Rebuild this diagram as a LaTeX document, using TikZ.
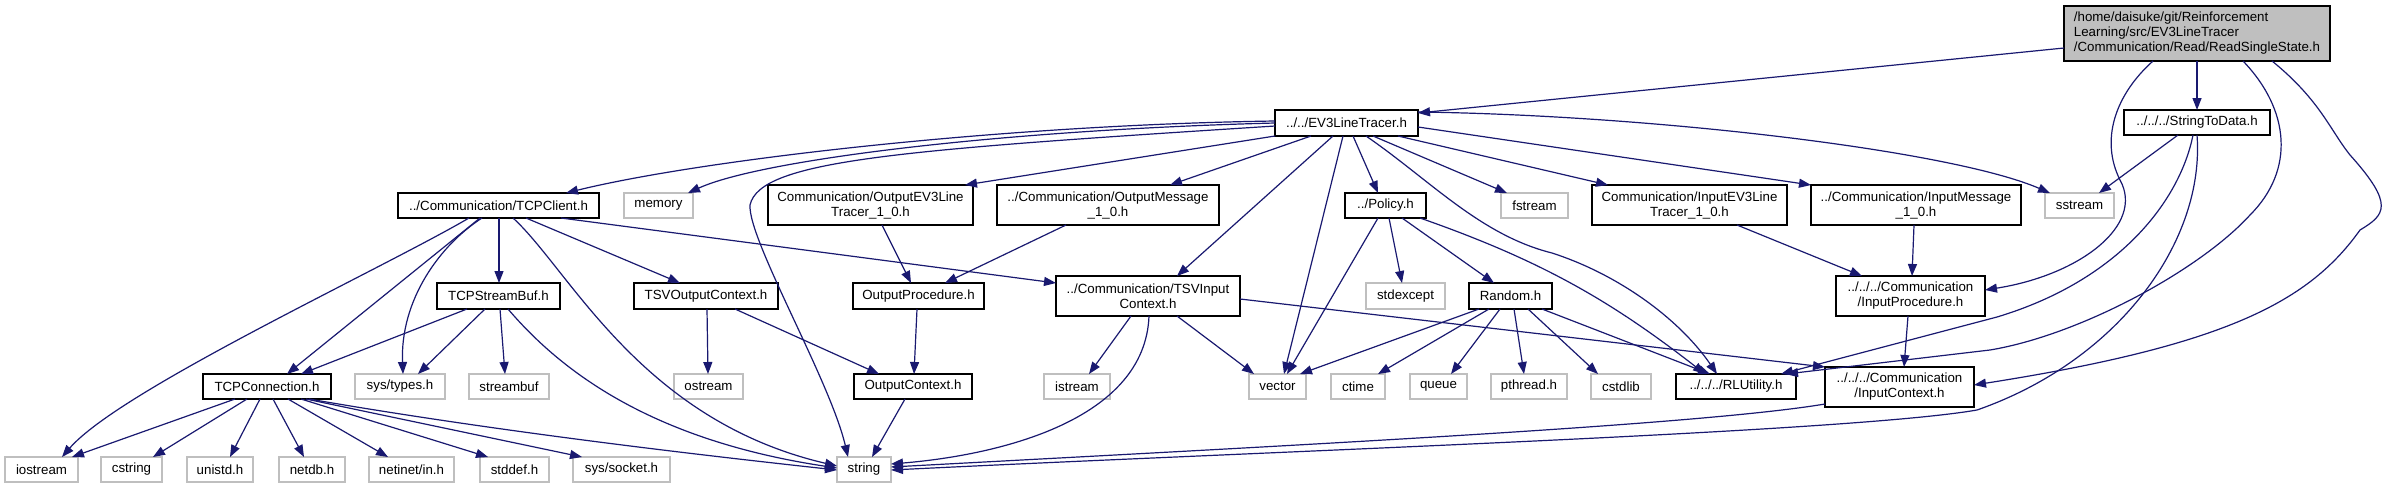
\documentclass[tikz,border=0pt]{standalone}
\usepackage{fontspec}
\setmainfont{Liberation Sans}
\usetikzlibrary{arrows.meta}
\definecolor{edgeblue}{RGB}{25,25,112}
\definecolor{extgray}{RGB}{191,191,191}
\definecolor{rootgray}{RGB}{191,191,191}
\newcommand\hnode[7]{\node[#6, minimum width={(#4)-(#2)}, minimum height={(#5)-(#3)}] (#1) at ({((#2)+(#4))/2},{((#3)+(#5))/2}) {#7};}
\begin{document}
\begin{tikzpicture}[x=1pt,y=-1pt,
  base/.style={inner sep=0pt, outer sep=0pt, line width=1.3pt, font=\fontsize{13.3}{15}\selectfont, align=center, fill=white},
  hdr/.style={base, draw=black},
  sys/.style={base, draw=extgray},
  rootnode/.style={base, draw=black, fill=rootgray, align=left},
  dep/.style={draw=edgeblue, line width=1.2pt, -{Triangle[length=12pt,width=9pt]}}]
\fill[white] (0,0) rectangle (2387,488);
\useasboundingbox (0,0) rectangle (2387,488);
% row 0
\hnode{r}{2064}{6}{2330}{61}{rootnode}{/home/daisuke/git/Reinforcement\\Learning/src/EV3LineTracer\\/Communication/Read/ReadSingleState.h}
% row 1
\hnode{ev3}{1275}{110}{1418}{136}{hdr}{../../EV3LineTracer.h}
\hnode{std}{2124}{110}{2270}{135}{hdr}{../../../StringToData.h}
% row 2
\hnode{tcpc}{398}{193}{599}{218}{hdr}{../Communication/TCPClient.h}
\hnode{mem}{624}{193}{693}{218}{sys}{memory}
\hnode{oev3}{768}{185}{973}{225}{hdr}{Communication/OutputEV3Line\\Tracer\_1\_0.h}
\hnode{omsg}{997}{185}{1219}{225}{hdr}{../Communication/OutputMessage\\\_1\_0.h}
\hnode{pol}{1345}{193}{1426}{218}{hdr}{../Policy.h}
\hnode{fs}{1501}{193}{1568}{218}{sys}{fstream}
\hnode{iev3}{1592}{185}{1787}{225}{hdr}{Communication/InputEV3Line\\Tracer\_1\_0.h}
\hnode{imsg}{1811}{185}{2021}{225}{hdr}{../Communication/InputMessage\\\_1\_0.h}
\hnode{ss}{2045}{193}{2114}{218}{sys}{sstream}
% row 3
\hnode{tsb}{437}{283}{560}{309}{hdr}{TCPStreamBuf.h}
\hnode{tsvo}{634}{283}{778}{309}{hdr}{TSVOutputContext.h}
\hnode{op}{853}{283}{984}{309}{hdr}{OutputProcedure.h}
\hnode{tsvi}{1056}{276}{1240}{316}{hdr}{../Communication/TSVInput\\Context.h}
\hnode{sx}{1366}{283}{1445}{309}{sys}{stdexcept}
\hnode{rnd}{1469}{283}{1552}{309}{hdr}{Random.h}
\hnode{inproc}{1836}{276}{1985}{316}{hdr}{../../../Communication\\/InputProcedure.h}
% row 4
\hnode{tcpconn}{203}{374}{331}{399}{hdr}{TCPConnection.h}
\hnode{st}{355}{374}{445}{399}{sys}{sys/types.h}
\hnode{sb}{469}{374}{549}{399}{sys}{streambuf}
\hnode{os}{674}{374}{743}{399}{sys}{ostream}
\hnode{oc}{854}{374}{972}{399}{hdr}{OutputContext.h}
\hnode{is}{1044}{374}{1110}{399}{sys}{istream}
\hnode{vec}{1249}{374}{1306}{399}{sys}{vector}
\hnode{ct}{1331}{374}{1385}{399}{sys}{ctime}
\hnode{qu}{1410}{374}{1467}{399}{sys}{queue}
\hnode{pth}{1491}{374}{1567}{399}{sys}{pthread.h}
\hnode{csl}{1591}{374}{1651}{399}{sys}{cstdlib}
\hnode{rl}{1676}{374}{1796}{399}{hdr}{../../../RLUtility.h}
\hnode{ic}{1825}{367}{1974}{407}{hdr}{../../../Communication\\/InputContext.h}
% row 5
\hnode{ios}{5}{457}{78}{482}{sys}{iostream}
\hnode{cstr}{101}{457}{162}{482}{sys}{cstring}
\hnode{uni}{187}{457}{253}{482}{sys}{unistd.h}
\hnode{ndb}{279}{457}{345}{482}{sys}{netdb.h}
\hnode{nin}{369}{457}{454}{482}{sys}{netinet/in.h}
\hnode{sdef}{480}{457}{549}{482}{sys}{stddef.h}
\hnode{sock}{573}{457}{670}{482}{sys}{sys/socket.h}
\hnode{str}{837}{457}{891}{482}{sys}{string}

% root edges
\draw[dep] (r.west |- 0,48) -- (ev3.east |- 0,113);
\draw[dep] (r.south -| 2197,0) -- (std.north -| 2197,0);
\draw[dep] (r.south -| 2153,0) .. controls (2115,95) and (2100,140) .. (2120,180) .. controls (2145,225) and (2080,275) .. (inproc.east |- 0,290);
\draw[dep] (r.south -| 2243,0) .. controls (2290,110) and (2295,170) .. (2250,215) .. controls (2200,270) and (2080,335) .. (1990,350) -- (rl.north -| 1786,0);
\draw[dep] (r.south -| 2272,0) .. controls (2320,100) and (2330,130) .. (2350,155) .. controls (2395,205) and (2385,215) .. (2360,230) .. controls (2310,300) and (2230,345) .. (ic.east |- 0,385);
% StringToData edges
\draw[dep] (std.south -| 2178,0) -- (ss.north -| 2099,0);
\draw[dep] (std.south -| 2193,0) .. controls (2180,200) and (2120,280) .. (1997,317) -- (rl.north -| 1781,0);
\draw[dep] (std.south -| 2197,0) .. controls (2205,240) and (2120,360) .. (1977,410) .. controls (1850,432) and (1300,450) .. (str.east |- 0,470);
% EV3 edges
\draw[dep] (ev3.west |- 0,121) .. controls (1000,125) and (700,160) .. (tcpc.north -| 566,0);
\draw[dep] (ev3.west |- 0,123) .. controls (1000,130) and (760,160) .. (mem.north -| 688,0);
\draw[dep] (ev3.west |- 0,126) .. controls (900,150) and (760,160) .. (750,205) .. controls (748,240) and (830,380) .. (str.north -| 848,0);
\draw[dep] (ev3.south west) -- (oev3.north -| 965,0);
\draw[dep] (ev3.south -| 1311,0) -- (omsg.north -| 1170,0);
\draw[dep] (ev3.south -| 1333,0) -- (tsvi.north -| 1177,0);
\draw[dep] (ev3.south -| 1343,0) -- (vec.north -| 1284,0);
\draw[dep] (ev3.south -| 1353,0) -- (pol.north -| 1378,0);
\draw[dep] (ev3.south -| 1366,0) .. controls (1430,180) and (1480,235) .. (1552,253) .. controls (1620,275) and (1680,320) .. (rl.north -| 1717,0);
\draw[dep] (ev3.south -| 1373,0) -- (fs.north -| 1507,0);
\draw[dep] (ev3.south -| 1398,0) -- (iev3.north -| 1608,0);
\draw[dep] (ev3.east |- 0,127) -- (imsg.north west);
\draw[dep] (ev3.east |- 0,112) .. controls (1650,115) and (1950,150) .. (ss.north -| 2050,0);
% TCPClient edges
\draw[dep] (tcpc.south -| 469,0) .. controls (380,270) and (120,390) .. (ios.north -| 62,0);
\draw[dep] (tcpc.south -| 480,0) -- (tcpconn.north -| 287,0);
\draw[dep] (tcpc.south -| 482,0) .. controls (440,245) and (400,300) .. (st.north -| 403,0);
\draw[dep] (tcpc.south -| 499,0) -- (tsb.north -| 499,0);
\draw[dep] (tcpc.south -| 513,0) .. controls (570,270) and (640,420) .. (str.west |- 0,466);
\draw[dep] (tcpc.south -| 526,0) -- (tsvo.north -| 680,0);
\draw[dep] (tcpc.south -| 561,0) -- (tsvi.west |- 0,283);
% TCPStreamBuf edges
\draw[dep] (tsb.south -| 467,0) -- (tcpconn.north -| 301,0);
\draw[dep] (tsb.south -| 485,0) -- (st.north -| 418,0);
\draw[dep] (tsb.south -| 500,0) -- (sb.north -| 505,0);
\draw[dep] (tsb.south -| 508,0) .. controls (560,370) and (650,440) .. (str.west |- 0,468);
% TCPConnection edges
\draw[dep] (tcpconn.south -| 235,0) -- (ios.north -| 72,0);
\draw[dep] (tcpconn.south -| 247,0) -- (cstr.north -| 153,0);
\draw[dep] (tcpconn.south -| 260,0) -- (uni.north -| 230,0);
\draw[dep] (tcpconn.south -| 273,0) -- (ndb.north -| 304,0);
\draw[dep] (tcpconn.south -| 288,0) -- (nin.north -| 388,0);
\draw[dep] (tcpconn.south -| 301,0) -- (sdef.north -| 488,0);
\draw[dep] (tcpconn.south -| 306,0) -- (sock.north -| 582,0);
\draw[dep] (tcpconn.south -| 309,0) .. controls (500,432) and (700,455) .. (str.west |- 0,470);
% TSVOutputContext edges
\draw[dep] (tsvo.south -| 707,0) -- (os.north -| 708,0);
\draw[dep] (tsvo.south -| 735,0) -- (oc.north -| 879,0);
% Output chain
\draw[dep] (oev3.south -| 882,0) -- (op.north -| 911,0);
\draw[dep] (omsg.south -| 1066,0) -- (op.north -| 945,0);
\draw[dep] (op.south -| 917,0) -- (oc.north -| 914,0);
\draw[dep] (oc.south -| 905,0) -- (str.north -| 872,0);
% TSVInputContext edges
\draw[dep] (tsvi.south -| 1131,0) -- (is.north -| 1089,0);
\draw[dep] (tsvi.south -| 1149,0) .. controls (1145,420) and (1000,455) .. (str.east |- 0,464);
\draw[dep] (tsvi.south -| 1177,0) -- (vec.north -| 1254,0);
\draw[dep] (tsvi.east |- 0,299) -- (ic.north west);
% Policy edges
\draw[dep] (pol.south -| 1378,0) -- (vec.north -| 1287,0);
\draw[dep] (pol.south -| 1389,0) -- (sx.north -| 1402,0);
\draw[dep] (pol.south -| 1402,0) -- (rnd.north -| 1494,0);
\draw[dep] (pol.south -| 1420,0) .. controls (1540,260) and (1610,300) .. (rl.north -| 1705,0);
% Random edges
\draw[dep] (rnd.south -| 1479,0) -- (vec.north -| 1300,0);
\draw[dep] (rnd.south -| 1489,0) -- (ct.north -| 1378,0);
\draw[dep] (rnd.south -| 1500,0) -- (qu.north -| 1451,0);
\draw[dep] (rnd.south -| 1514,0) -- (pth.north -| 1524,0);
\draw[dep] (rnd.south -| 1528,0) -- (csl.north -| 1598,0);
\draw[dep] (rnd.south -| 1542,0) -- (rl.north -| 1710,0);
% Input chain
\draw[dep] (iev3.south -| 1737,0) -- (inproc.north -| 1862,0);
\draw[dep] (imsg.south -| 1914,0) -- (inproc.north -| 1912,0);
\draw[dep] (inproc.south -| 1908,0) -- (ic.north -| 1904,0);
\draw[dep] (ic.west |- 0,404) .. controls (1700,425) and (1300,445) .. (str.east |- 0,467);
\end{tikzpicture}
\end{document}
